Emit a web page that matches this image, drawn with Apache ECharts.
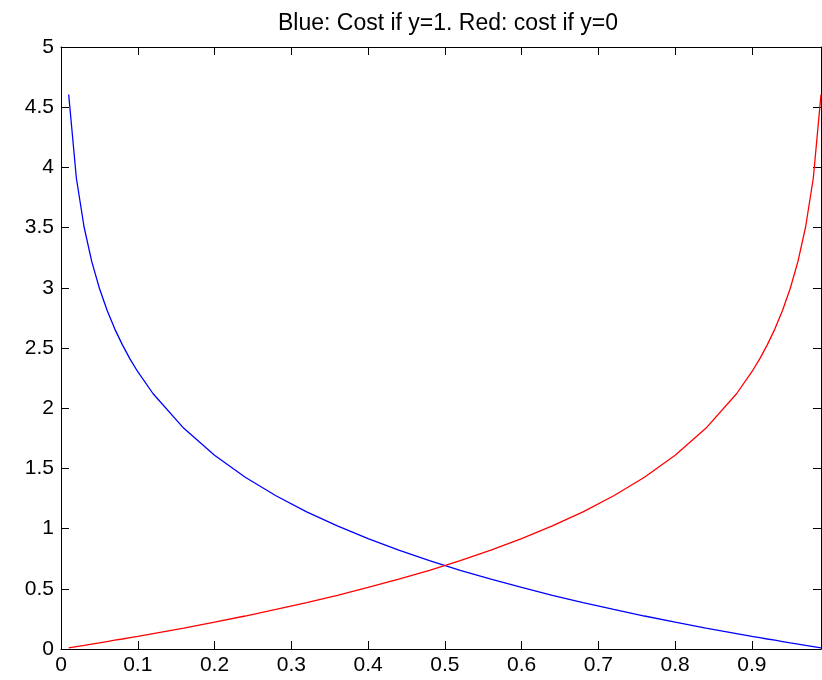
<!DOCTYPE html>
<html>
<head>
<meta charset="utf-8">
<script src="https://cdn.jsdelivr.net/npm/echarts@6/dist/echarts.min.js"></script>
<style>
  html, body { margin: 0; padding: 0; background: #fff; }
  #chart { width: 822px; height: 680px; }
</style>
</head>
<body>
<div id="chart"></div>
<script>
// x samples and the two cost curves
var xs = [0.01, 0.02, 0.03, 0.04, 0.05, 0.06, 0.07, 0.08, 0.09, 0.10,
          0.12, 0.16, 0.20, 0.24, 0.28, 0.32, 0.36, 0.40, 0.44, 0.48,
          0.52, 0.56, 0.60, 0.64, 0.68, 0.72, 0.76, 0.80, 0.84, 0.88,
          0.90, 0.91, 0.92, 0.93, 0.94, 0.95, 0.96, 0.97, 0.98, 0.99]
var costY1 = [4.605, 3.912, 3.507, 3.219, 2.996, 2.813, 2.659, 2.526, 2.408, 2.303,
              2.120, 1.833, 1.609, 1.427, 1.273, 1.139, 1.022, 0.916, 0.821, 0.734,
              0.654, 0.580, 0.511, 0.446, 0.386, 0.329, 0.274, 0.223, 0.174, 0.128,
              0.105, 0.094, 0.083, 0.073, 0.062, 0.051, 0.041, 0.030, 0.020, 0.010]
var costY0 = [0.010, 0.020, 0.030, 0.041, 0.051, 0.062, 0.073, 0.083, 0.094, 0.105,
              0.128, 0.174, 0.223, 0.274, 0.329, 0.386, 0.446, 0.511, 0.580, 0.654,
              0.734, 0.821, 0.916, 1.022, 1.139, 1.273, 1.427, 1.609, 1.833, 2.120,
              2.303, 2.408, 2.526, 2.659, 2.813, 2.996, 3.219, 3.507, 3.912, 4.605]

var titleText = 'Blue: Cost if y=1. Red: cost if y=0'

function pairs(ys) {
  var out = []
  for (var i = 0; i < xs.length; i++) {
    out.push([xs[i], ys[i]])
  }
  return out
}

var font = 'Liberation Sans, Arial, sans-serif'
var lineStyle = { color: '#000', width: 1 }
var tick = { show: true, inside: true, length: 8, lineStyle: { color: '#000', width: 1 } }

var myChart = echarts.init(document.getElementById('chart'))

var option = {
  animation: false,
  backgroundColor: '#fff',
  title: {
    text: titleText,
    left: 443,
    textAlign: 'center',
    top: 7,
    textStyle: { fontFamily: font, fontSize: 23, fontWeight: 'normal', color: '#000' }
  },
  grid: {
    left: 61,
    top: 47,
    width: 760,
    height: 602,
    containLabel: false
  },
  xAxis: [
    {
      type: 'value',
      position: 'bottom',
      min: 0,
      max: 0.99,
      interval: 0.1,
      axisLine: { show: true, onZero: false, lineStyle: lineStyle },
      axisTick: tick,
      splitLine: { show: false },
      axisLabel: {
        showMaxLabel: false,
        margin: 6,
        fontFamily: font,
        fontSize: 21,
        color: '#000'
      }
    },
    {
      type: 'value',
      position: 'top',
      min: 0,
      max: 0.99,
      interval: 0.1,
      axisLine: { show: true, onZero: false, lineStyle: lineStyle },
      axisTick: tick,
      splitLine: { show: false },
      axisLabel: { show: false }
    }
  ],
  yAxis: [
    {
      type: 'value',
      position: 'left',
      min: 0,
      max: 5,
      interval: 0.5,
      axisLine: { show: true, onZero: false, lineStyle: lineStyle },
      axisTick: tick,
      splitLine: { show: false },
      axisLabel: {
        margin: 7,
        fontFamily: font,
        fontSize: 21,
        color: '#000'
      }
    },
    {
      type: 'value',
      position: 'right',
      min: 0,
      max: 5,
      interval: 0.5,
      axisLine: { show: true, onZero: false, lineStyle: lineStyle },
      axisTick: tick,
      splitLine: { show: false },
      axisLabel: { show: false }
    }
  ],
  series: [
    {
      name: 'cost if y=1',
      type: 'line',
      data: pairs(costY1),
      showSymbol: false,
      lineStyle: { color: '#0000ff', width: 1.3 },
      itemStyle: { color: '#0000ff' }
    },
    {
      name: 'cost if y=0',
      type: 'line',
      data: pairs(costY0),
      showSymbol: false,
      lineStyle: { color: '#ff0000', width: 1.3 },
      itemStyle: { color: '#ff0000' }
    }
  ]
}

myChart.setOption(option)
</script>
</body>
</html>
